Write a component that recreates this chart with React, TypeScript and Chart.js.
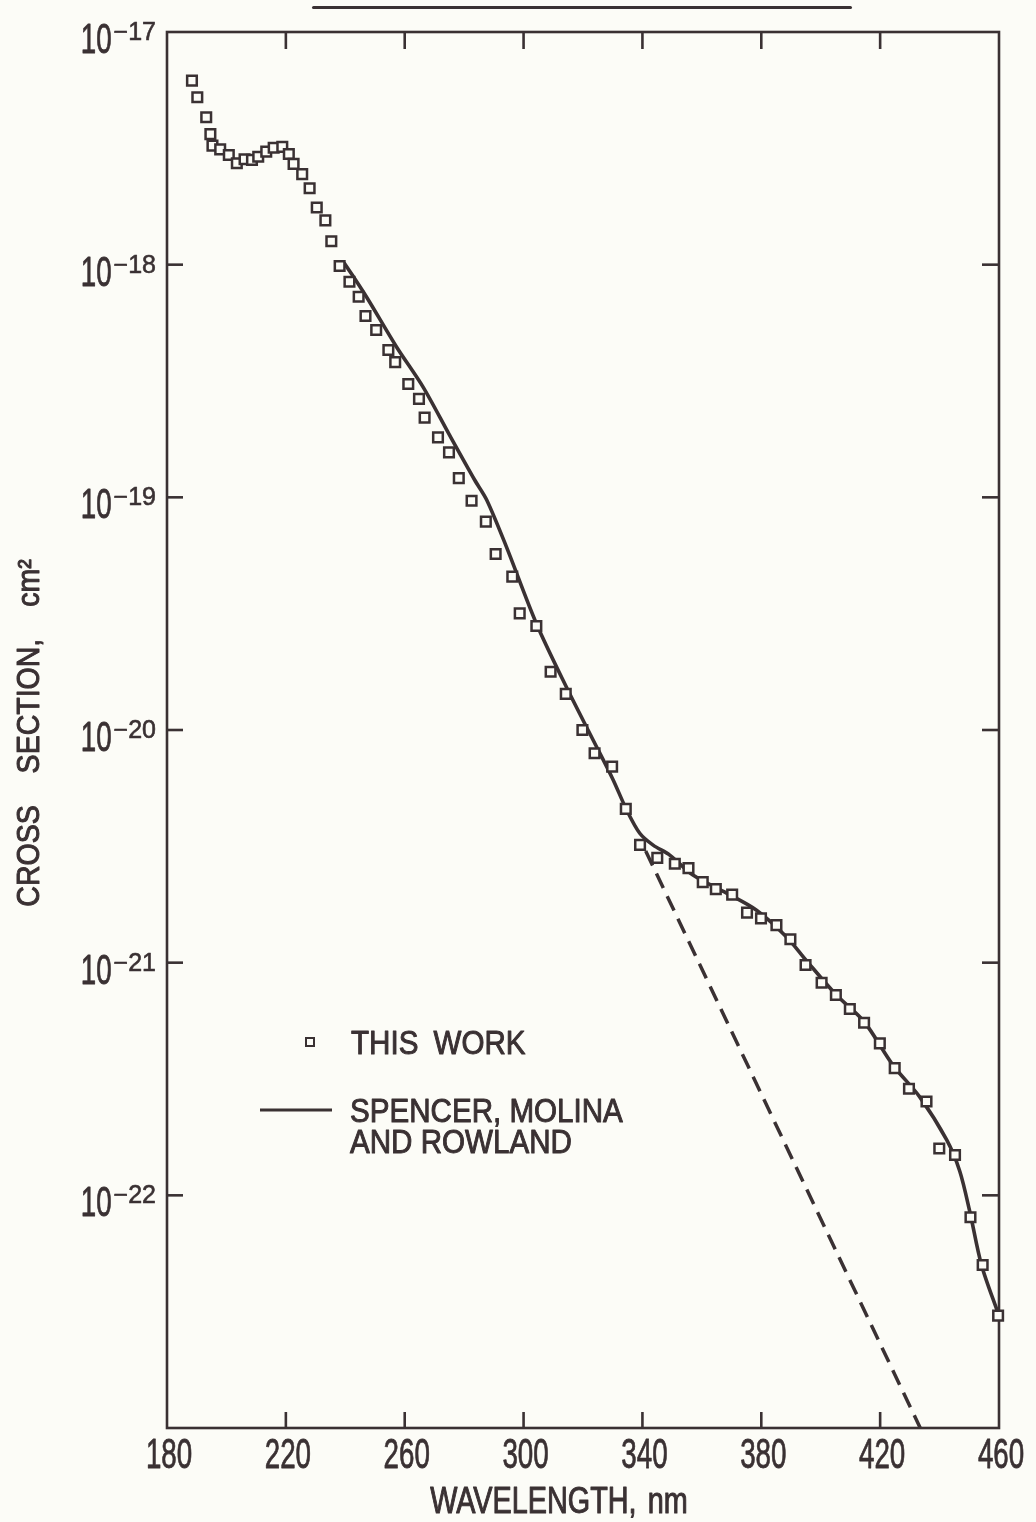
import React, { useEffect, useRef } from 'react';
import { Chart, registerables } from 'chart.js';

Chart.register(...registerables);

// ---------------- data ----------------
const thisWorkWavelength = [
  188.4, 190.2, 193.2, 194.6, 195.3, 197.9, 200.8, 203.5, 206.1, 208.6,
  210.7, 213.4, 215.9, 218.8, 221.0, 222.6, 225.5, 228.0, 230.4, 233.3,
  235.3, 238.1, 241.4, 244.5, 246.8, 250.4, 254.5, 256.8, 261.2, 264.8,
  266.7, 271.2, 274.9, 278.2, 282.5, 287.3, 290.6, 296.2, 298.7, 304.3,
  309.1, 314.2, 319.8, 323.9, 329.8, 334.4, 339.2, 345.0, 350.9, 355.5,
  360.3, 364.7, 370.2, 375.2, 379.9, 385.1, 389.8, 394.9, 400.3, 405.1,
  409.8, 414.6, 419.9, 424.9, 429.7, 435.6, 439.9, 445.2, 450.4, 454.5,
  459.7,
];
const thisWorkCrossSection = [
  6.18e-18, 5.24e-18, 4.30e-18, 3.64e-18, 3.25e-18, 3.13e-18, 2.96e-18, 2.73e-18, 2.84e-18, 2.82e-18,
  2.91e-18, 3.06e-18, 3.18e-18, 3.21e-18, 2.99e-18, 2.71e-18, 2.45e-18, 2.13e-18, 1.76e-18, 1.55e-18,
  1.26e-18, 9.87e-19, 8.45e-19, 7.28e-19, 6.02e-19, 5.24e-19, 4.30e-19, 3.81e-19, 3.07e-19, 2.65e-19,
  2.20e-19, 1.81e-19, 1.56e-19, 1.21e-19, 9.67e-20, 7.86e-20, 5.71e-20, 4.56e-20, 3.17e-20, 2.80e-20,
  1.78e-20, 1.43e-20, 1.00e-20, 7.94e-21, 6.96e-21, 4.58e-21, 3.21e-21, 2.82e-21, 2.66e-21, 2.55e-21,
  2.22e-21, 2.07e-21, 1.96e-21, 1.64e-21, 1.55e-21, 1.45e-21, 1.26e-21, 9.77e-22, 8.20e-22, 7.26e-22,
  6.32e-22, 5.52e-22, 4.50e-22, 3.52e-22, 2.87e-22, 2.53e-22, 1.59e-22, 1.49e-22, 8.05e-23, 5.02e-23,
  3.04e-23,
];

const smrWavelength = [
  239.6, 247.1, 257.2, 266.1, 275.1, 283.5, 287.6, 294.2, 304.3, 314.4,
  323.4, 330.0, 334.7, 339.1, 343.6, 349.2, 357.0, 368.3, 378.4, 388.5,
  395.2, 405.1, 414.5, 424.3, 433.3, 442.4, 446.8, 450.2, 454.1, 459.7,
];
const smrCrossSection = [
  1.02e-18, 7.28e-19, 4.44e-19, 2.99e-19, 1.85e-19, 1.19e-19, 9.74e-20, 6.14e-20, 2.87e-20, 1.53e-20,
  9.06e-21, 6.16e-21, 4.53e-21, 3.60e-21, 3.20e-21, 2.90e-21, 2.38e-21, 1.99e-21, 1.68e-21, 1.29e-21,
  1.02e-21, 7.30e-22, 5.60e-22, 3.63e-22, 2.65e-22, 1.73e-22, 1.27e-22, 8.48e-23, 5.02e-23, 3.11e-23,
];

const extrapWavelength = [341.1, 433.5];
const extrapCrossSection = [3.02e-21, 1.0e-23];

const xTickValues = [180, 220, 260, 300, 340, 380, 420, 460];
const yTickExponents = [-17, -18, -19, -20, -21, -22];

const xAxisTitle = 'WAVELENGTH, nm';
const yAxisTitle = 'CROSS SECTION, cm²';
const legendPointsLabel = 'THIS WORK';
const legendLineLabel = ['SPENCER, MOLINA', 'AND ROWLAND'];

// ---------------- style ----------------
const W = 1036;
const H = 1522;
const INK = '#3a3133';
const BG = '#fcfcf7';
const FONT = "'Liberation Sans', Arial, sans-serif";

type Align = 'left' | 'center' | 'right';

function drawText(
  ctx: CanvasRenderingContext2D,
  text: string,
  x: number,
  y: number,
  size: number,
  squeeze: number,
  align: Align,
  extraSpace = 0,
  bolden = 0.9,
): number {
  ctx.font = `${size}px ${FONT}`;
  const words = text.split(' ');
  const spaceW = ctx.measureText(' ').width + extraSpace;
  const widths = words.map((w) => ctx.measureText(w).width);
  const total = (widths.reduce((a, b) => a + b, 0) + spaceW * (words.length - 1)) * squeeze;
  const x0 = align === 'left' ? x : align === 'center' ? x - total / 2 : x - total;
  ctx.save();
  ctx.translate(x0, y);
  ctx.scale(squeeze, 1);
  ctx.textAlign = 'left';
  ctx.textBaseline = 'alphabetic';
  ctx.fillStyle = INK;
  ctx.strokeStyle = INK;
  ctx.lineWidth = bolden;
  ctx.lineJoin = 'round';
  let cx = 0;
  words.forEach((w, i) => {
    ctx.fillText(w, cx, 0);
    if (bolden > 0) ctx.strokeText(w, cx, 0);
    cx += widths[i] + spaceW;
  });
  ctx.restore();
  return total;
}

function seg(ctx: CanvasRenderingContext2D, x1: number, y1: number, x2: number, y2: number) {
  ctx.beginPath();
  ctx.moveTo(x1, y1);
  ctx.lineTo(x2, y2);
  ctx.stroke();
}

const decorPlugin = {
  id: 'decor',
  beforeDatasetsDraw(chart: any) {
    const { ctx, chartArea: a, scales } = chart;
    const xs = scales.x;
    const ys = scales.y;
    ctx.save();
    ctx.strokeStyle = INK;
    ctx.lineWidth = 2.6;
    ctx.lineCap = 'butt';
    ctx.strokeRect(a.left, a.top, a.right - a.left, a.bottom - a.top);
    xTickValues.forEach((v) => {
      const px = xs.getPixelForValue(v);
      if (px <= a.left + 2 || px >= a.right - 2) return;
      seg(ctx, px, a.top, px, a.top + 17);
      seg(ctx, px, a.bottom, px, a.bottom - 16);
    });
    yTickExponents.forEach((e) => {
      const py = ys.getPixelForValue(Math.pow(10, e));
      if (py <= a.top + 2 || py >= a.bottom - 2) return;
      seg(ctx, a.left, py, a.left + 16, py);
      seg(ctx, a.right, py, a.right - 17, py);
    });
    ctx.restore();
  },
  afterDraw(chart: any) {
    const { ctx, chartArea: a, scales } = chart;
    const xs = scales.x;
    const ys = scales.y;
    ctx.save();
    // x tick labels
    xTickValues.forEach((v) => {
      const px = xs.getPixelForValue(v);
      drawText(ctx, String(v), px + 2, a.bottom + 40, 42, 0.66, 'center', 0, 0.8);
    });
    // y tick labels 10^n
    yTickExponents.forEach((e) => {
      const py = ys.getPixelForValue(Math.pow(10, e));
      const right = a.left - 11;
      const ew = drawText(ctx, '\u2212' + Math.abs(e), right, py + 8, 25, 1.0, 'right', 0, 0.6);
      drawText(ctx, '10', right - ew - 2, py + 21, 42, 0.66, 'right', 0, 0.8);
    });
    // axis titles
    drawText(ctx, xAxisTitle, 559, 1513, 36, 0.8, 'center', 4, 1.0);
    ctx.save();
    ctx.translate(39, 733);
    ctx.rotate(-Math.PI / 2);
    drawText(ctx, yAxisTitle, 0, 0, 31, 0.92, 'center', 26, 1.0);
    ctx.restore();
    // legend
    ctx.strokeStyle = INK;
    ctx.fillStyle = BG;
    ctx.lineWidth = 2;
    ctx.fillRect(306, 1038, 8, 8);
    ctx.strokeRect(306, 1038, 8, 8);
    drawText(ctx, legendPointsLabel, 351, 1054, 34, 0.87, 'left', 8, 1.0);
    ctx.lineWidth = 3.2;
    seg(ctx, 260, 1110, 332, 1110);
    drawText(ctx, legendLineLabel[0], 350, 1122, 34, 0.87, 'left', 0, 1.0);
    drawText(ctx, legendLineLabel[1], 350, 1153, 34, 0.87, 'left', 0, 1.0);
    ctx.restore();
  },
};

export default function App() {
  const canvasRef = useRef<HTMLCanvasElement | null>(null);

  useEffect(() => {
    const canvas = canvasRef.current;
    if (!canvas) return;
    const toXY = (xs: number[], ys: number[]) => xs.map((x, i) => ({ x, y: ys[i] }));
    const chart = new Chart(canvas, {
      type: 'scatter',
      data: {
        datasets: [
          {
            label: legendPointsLabel,
            data: toXY(thisWorkWavelength, thisWorkCrossSection),
            showLine: false,
            pointStyle: 'rect',
            pointRadius: 6.8,
            pointBorderWidth: 2.5,
            borderColor: INK,
            backgroundColor: BG,
            pointBackgroundColor: BG,
            pointBorderColor: INK,
            clip: false,
          },
          {
            label: legendLineLabel.join(' '),
            data: toXY(smrWavelength, smrCrossSection),
            showLine: true,
            pointRadius: 0,
            borderColor: INK,
            borderWidth: 3.6,
            tension: 0.3,
            fill: false,
          },
          {
            label: 'extrapolation',
            data: toXY(extrapWavelength, extrapCrossSection),
            showLine: true,
            pointRadius: 0,
            borderColor: INK,
            borderWidth: 3.5,
            borderDash: [16, 9],
            fill: false,
          },
        ],
      },
      options: {
        responsive: false,
        maintainAspectRatio: false,
        animation: false,
        devicePixelRatio: 1,
        events: [],
        layout: { padding: { top: 32, right: 37, bottom: 0, left: 0 } },
        plugins: {
          legend: { display: false },
          tooltip: { enabled: false },
          title: { display: false },
        },
        scales: {
          x: {
            type: 'linear',
            min: 180,
            max: 460,
            ticks: { display: false, stepSize: 40 },
            grid: { display: false },
            border: { display: false },
            afterFit: (s: any) => {
              s.height = 94;
            },
          },
          y: {
            type: 'logarithmic',
            min: 1e-23,
            max: 1e-17,
            ticks: { display: false },
            grid: { display: false },
            border: { display: false },
            afterFit: (s: any) => {
              s.width = 167;
            },
          },
        },
      },
      plugins: [decorPlugin],
    } as any);
    return () => chart.destroy();
  }, []);

  return (
    <div
      style={{
        position: 'absolute',
        left: 0,
        top: 0,
        width: W,
        height: H,
        background: BG,
        overflow: 'hidden',
      }}
    >
      <div
        style={{
          position: 'absolute',
          left: 312,
          top: 6,
          width: 540,
          height: 3,
          background: INK,
          borderRadius: 2,
        }}
      />
      <canvas
        ref={canvasRef}
        width={W}
        height={H}
        style={{ position: 'absolute', left: 0, top: 0, display: 'block' }}
      />
    </div>
  );
}
